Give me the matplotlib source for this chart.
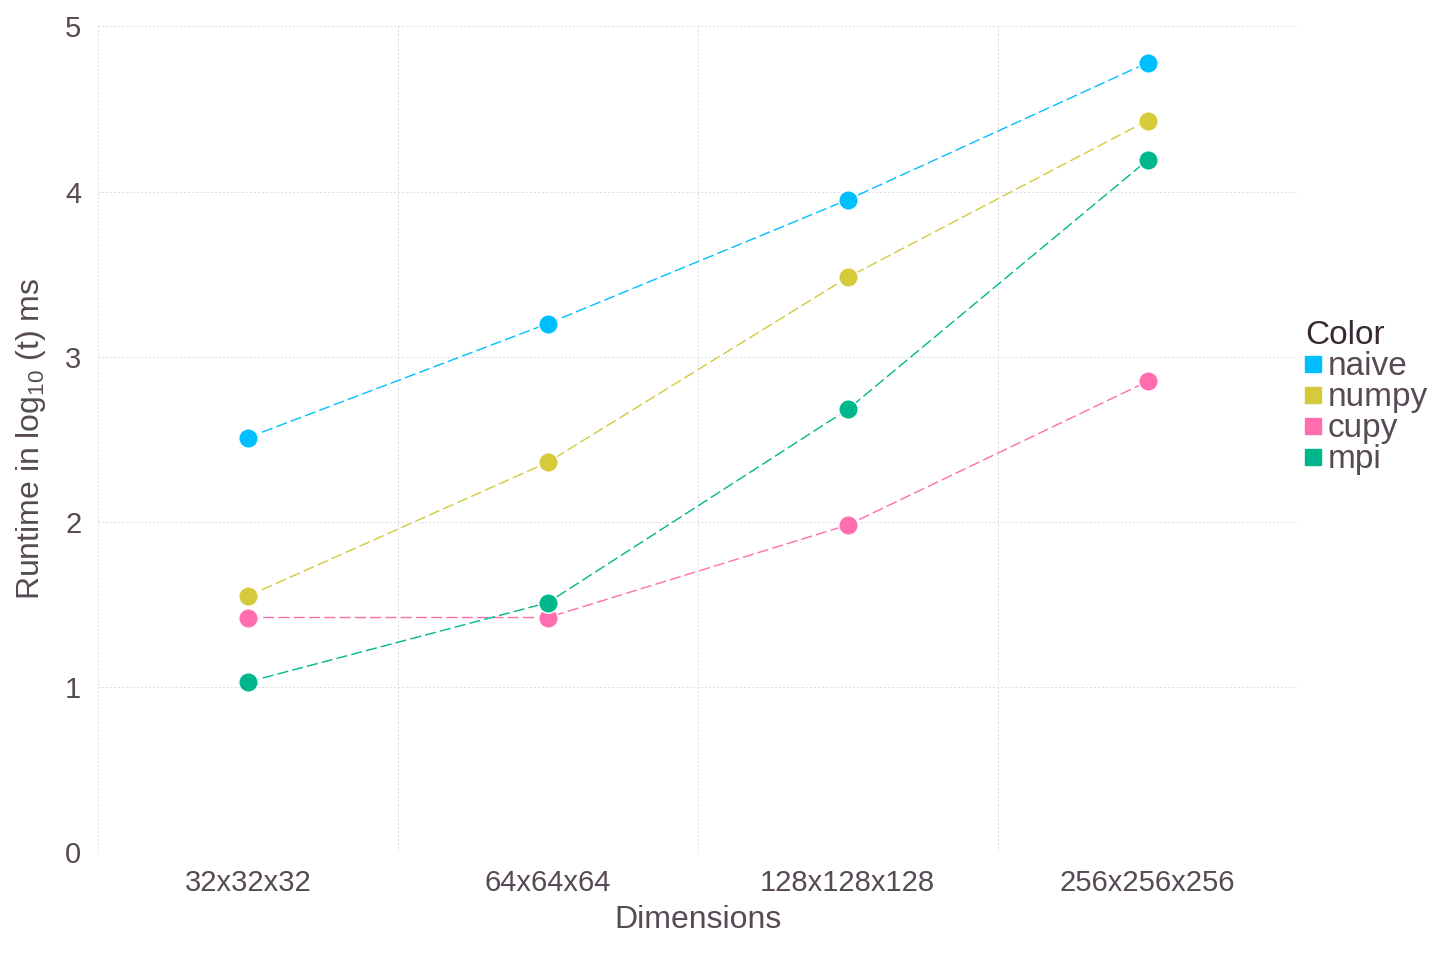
import matplotlib
matplotlib.use("Agg")
import matplotlib.pyplot as plt
from matplotlib.lines import Line2D

plt.rcParams['font.family'] = ['Liberation Sans', 'DejaVu Sans']
plt.rcParams['mathtext.fontset'] = 'custom'
plt.rcParams['mathtext.rm'] = 'Liberation Sans'

# --- data ---
dims = ["32x32x32", "64x64x64", "128x128x128", "256x256x256"]
naive = [2.51, 3.20, 3.95, 4.78]
numpy_ = [1.55, 2.36, 3.48, 4.43]
cupy = [1.42, 1.42, 1.98, 2.85]
mpi = [1.03, 1.51, 2.68, 4.19]

series = [("naive", naive, "#00BFFF"),
          ("numpy", numpy_, "#D4CA3A"),
          ("cupy", cupy, "#FF6DAE"),
          ("mpi", mpi, "#00B78D")]

TXT = "#564A55"
fig = plt.figure(figsize=(14.4, 9.6), dpi=100)
ax = fig.add_axes([0.068, 0.1125, 0.833, 0.86])

xs = list(range(len(dims)))
for name, vals, col in series:
    ax.plot(xs, vals, linestyle=(0, (8, 3)), lw=1, color=col, zorder=2)
    ax.plot(xs, vals, "o", ms=14, color=col, mec="white", mew=1, zorder=3)

ax.set_xlim(-0.5, 3.5)
ax.set_ylim(0, 5)
ax.set_xticks(xs)
ax.set_xticklabels(dims)
ax.set_xticks([-0.5, 0.5, 1.5, 2.5, 3.5], minor=True)
ax.set_yticks(range(6))
ax.grid(False)
ax.grid(True, which="minor", axis="x", color="#D8D8E0", lw=0.7, ls=(0, (2, 2)))
ax.grid(True, which="major", axis="y", color="#D8D8E0", lw=0.7, ls=(0, (2, 2)))
for s in ax.spines.values():
    s.set_visible(False)
ax.tick_params(which="both", length=0, labelsize=21, labelcolor=TXT, pad=12)
ax.set_xlabel("Dimensions", fontsize=23, color=TXT, labelpad=6)
ax.set_ylabel(r"Runtime in log$_{10}$ (t) ms", fontsize=23, color=TXT, labelpad=12)

handles = [Line2D([], [], marker="s", ls="", color=c, ms=11) for _, _, c in series]
leg = ax.legend(handles, [n for n, _, _ in series], title="Color",
                loc="center left", bbox_to_anchor=(0.995, 0.55), frameon=False,
                fontsize=24, title_fontsize=24, handlelength=0.5, handletextpad=0.2,
                labelspacing=0.0, borderaxespad=0.0)
leg._legend_box.align = "left"
for t in leg.get_texts():
    t.set_color(TXT)
leg.get_title().set_color("#362A35")

fig.savefig("out.png", dpi=100)
